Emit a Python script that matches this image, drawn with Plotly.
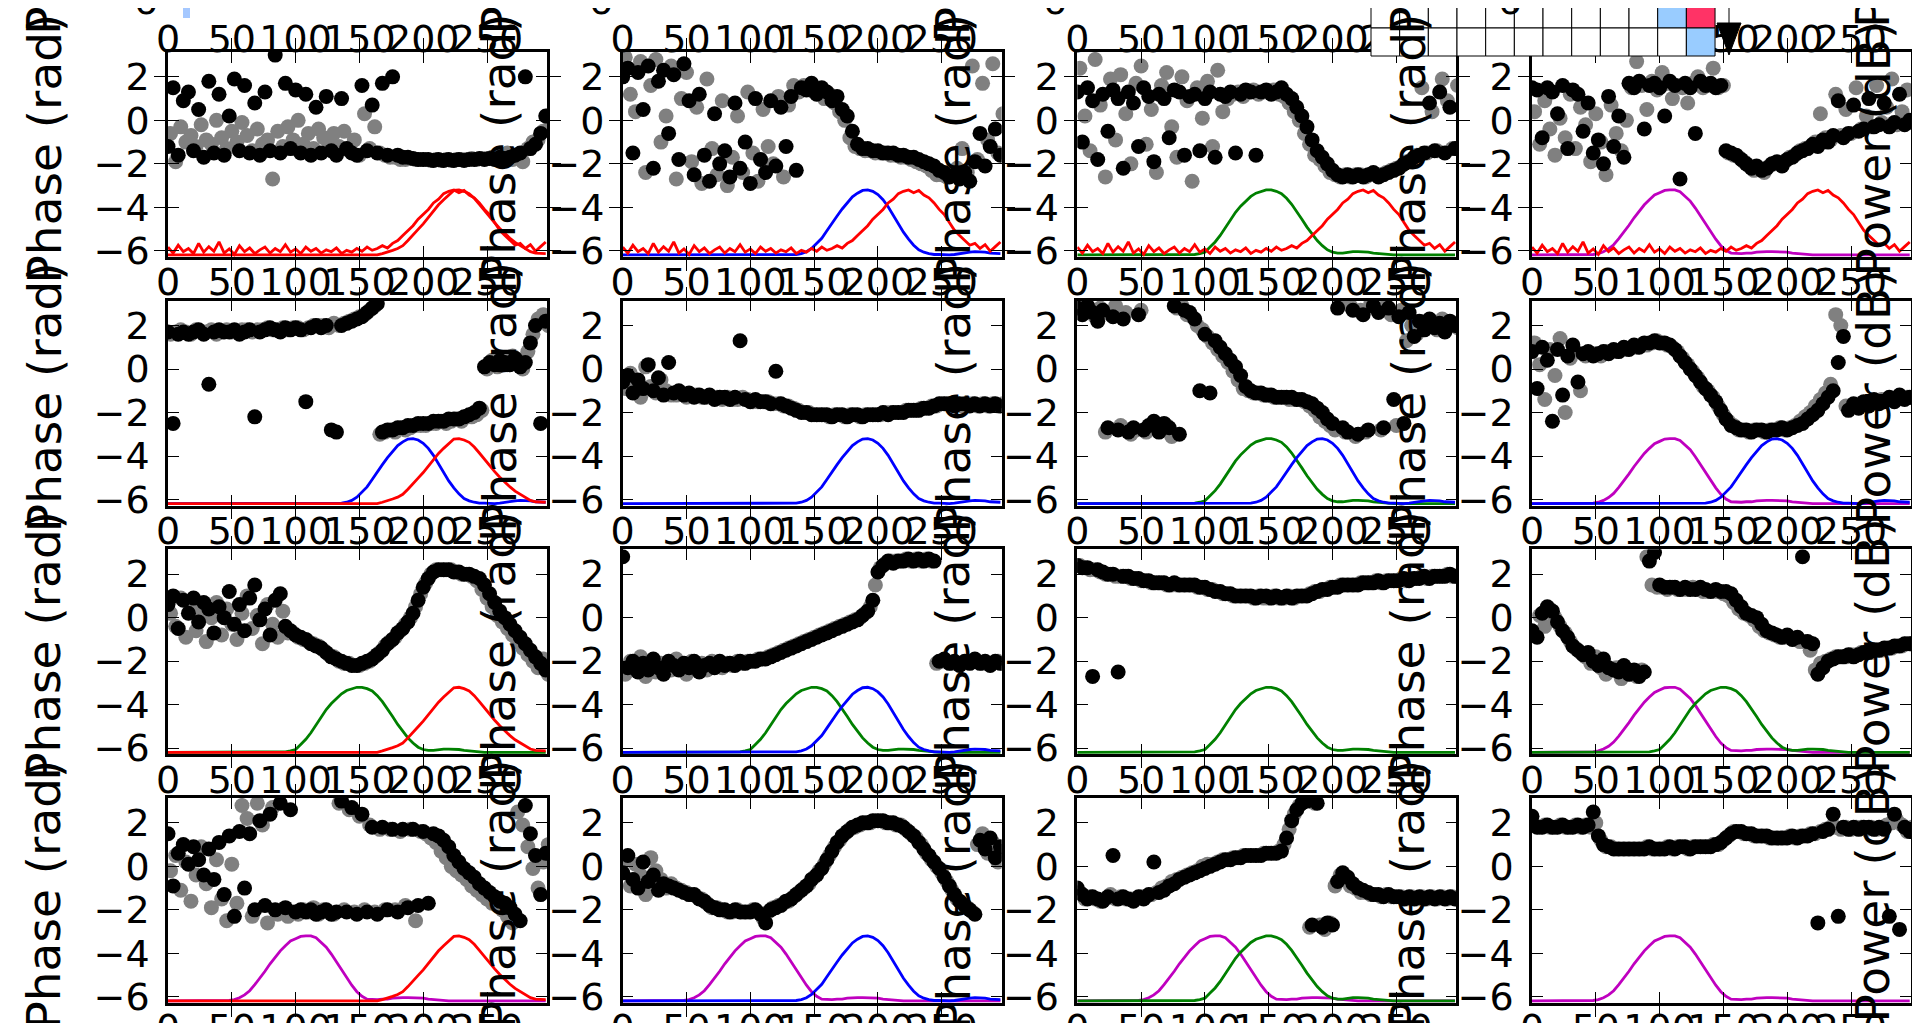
import math
import plotly.graph_objects as go

# ---------------- data ----------------
x_phase = list(range(0, 297, 4))      # frequency-bin positions of black phase points
x_gray = list(range(2, 299, 4))       # positions of the gray phase points
x_power = list(range(0, 297, 4))      # positions of power samples
x_tick_vals = [0, 50, 100, 150, 200, 250]
y_tick_vals = [2, 0, -2, -4, -6]
y_tick_text = ["2", "0", "\u22122", "\u22124", "\u22126"]

power_magenta = [-40, -40, -40, -40, -40, -40, -40, -40, -40, -40, -40, -40,
                 -39.9, -39.7, -39.3, -38.7, -37.8, -36.5, -35.1, -33.6, -32.0, -30.6,
                 -29.2, -28.1, -27.1, -26.6, -26.1, -26.0, -26.0, -26.4, -27.3, -28.4,
                 -29.9, -31.6, -33.4, -35.1, -36.6, -38.0, -39.0, -39.6, -39.7, -39.7,
                 -39.6, -39.6, -39.4, -39.3, -39.3, -39.3, -39.3, -39.3, -39.4, -39.6,
                 -39.7, -39.9,
                 -40, -40, -40, -40, -40, -40, -40, -40, -40, -40, -40, -40, -40, -40, -40, -40, -40, -40, -40, -40, -40]
power_green = [-40, -40, -40, -40, -40, -40, -40, -40, -40, -40, -40, -40, -40, -40, -40, -40, -40, -40, -40, -40, -40, -40, -40,
               -39.9, -39.7, -39.4, -38.3, -37.2, -35.8, -34.1, -32.3, -30.8, -29.5,
               -28.4, -27.4, -26.7, -26.3, -26.0, -26.0, -26.3, -26.8, -27.8, -29.1,
               -30.6, -32.3, -34.0, -35.5, -36.9, -38.0, -38.9, -39.4, -39.6, -39.6,
               -39.4, -39.3, -39.3, -39.3, -39.4, -39.6, -39.7, -39.9,
               -40, -40, -40, -40, -40, -40, -40, -40, -40, -40, -40, -40, -40, -40]
power_blue = [-40, -40, -40, -40, -40, -40, -40, -40, -40, -40, -40, -40, -40, -40, -40, -40, -40,
              -40, -40, -40, -40, -40, -40, -40, -40, -40, -40, -40, -40, -40, -40, -40, -40, -40,
              -39.9, -39.7, -39.3, -38.6, -37.6, -36.4, -34.8, -33.1, -31.6, -30.1,
              -28.7, -27.5, -26.7, -26.1, -26.0, -26.3, -27.0, -28.1, -29.6, -31.5,
              -33.3, -35.1, -36.6, -37.9, -38.9, -39.4, -39.7, -39.9, -39.9, -40.0,
              -40.0, -39.9, -39.7, -39.6, -39.4, -39.3, -39.3, -39.4, -39.6, -39.7,
              -39.7]
power_red = [-40, -40, -40, -40, -40, -40, -40, -40, -40, -40, -40, -40, -40, -40, -40, -40, -40, -40, -40, -40, -40,
             -40, -40, -40, -40, -40, -40, -40, -40, -40, -40, -40, -40, -40, -40, -40, -40, -40, -40, -40, -40, -40,
             -39.7, -39.4, -39.0, -38.6, -38.0, -36.9, -35.8, -34.5, -33.3, -31.9,
             -30.5, -29.2, -28.1, -27.0, -26.1, -26.0, -26.3, -26.8, -27.8, -29.1,
             -30.5, -31.9, -33.1, -34.3, -35.4, -36.4, -37.3, -38.0, -38.7, -39.3,
             -39.6, -39.7, -39.7]
power_red_noisy = [-38.3, -39.6, -37.9, -39.3, -38.6, -39.7, -37.5, -39.4, -38.2, -39.2,
                   -37.2, -39.6, -38.7, -39.9, -38.0, -39.3, -38.5, -39.7, -38.9, -38.3,
                   -39.6, -38.6, -39.3, -37.8, -39.4, -38.7, -39.7, -38.3, -39.2, -38.6,
                   -39.6, -38.9, -39.3, -38.5, -39.7, -39.0, -39.4, -38.6, -39.2, -38.3,
                   -39.0, -38.6, -38.0, -38.5, -37.5, -36.9, -35.8, -34.7, -33.7, -32.3,
                   -31.3, -30.2, -28.8, -28.0, -26.8, -26.3, -26.0, -26.6, -26.1, -27.1,
                   -27.7, -28.8, -30.2, -31.3, -33.0, -34.7, -35.8, -36.9, -37.9, -37.5,
                   -38.6, -37.8, -39.2, -38.2, -37.2]

phase_r1c1 = [-1.2, 1.5, -1.6, 0.9, 1.3, -1.4, 0.5, -1.7, 1.8, -1.5,
              1.2, -1.6, 0.2, 1.9, -1.4, 1.6, -1.5, 0.8, -1.6, 1.3,
              -1.4, 3.0, -1.5, 1.7, -1.3, 1.4, -1.5, 1.2, -1.6, 0.6,
              -1.5, 1.1, -1.4, -1.6, 1.0, -1.3, -1.5, -1.6, 1.6, -1.4,
              0.7, -1.5, 1.7, -1.6, 2.0, -1.6, -1.7, -1.7, -1.75, -1.8,
              -1.8, -1.8, -1.85, -1.8, -1.85, -1.8, -1.85, -1.8, -1.85, -1.8,
              -1.8, -1.75, -1.8, -1.75, -1.8, -1.7, -1.75, -1.7, -1.6, -1.5,
              2.0, -1.3, -1.1, -0.6, 0.2]
gray_r1c1 = [-0.6, -1.9, -0.3, -1.0, -0.7, -1.2, -0.2, -0.9, -1.1, 0.0,
             -0.8, -1.3, -0.5, -1.0, -0.1, -0.7, -1.4, -0.4, -1.1, -0.9,
             -2.7, -0.5, -1.2, -0.3, -0.9, 0.0, -1.1, -0.6, -1.3, -0.4,
             -0.8, -1.0, -0.6, -1.2, -0.5, -1.4, -0.9, -1.6, 0.3, -1.3,
             -0.3, -1.5, -1.6, -1.7, -1.7, -1.8, -1.8, -1.75, -1.8, -1.8,
             -1.8, -1.85, -1.8, -1.85, -1.8, -1.85, -1.8, -1.8, -1.8, -1.75,
             -1.8, -1.75, -1.75, -1.7, -1.7, -1.6, -1.5, -1.8, -1.6, -1.9,
             -1.3, -1.0, -0.9, -0.5, -0.4]
phase_r1c2 = [2.0, 2.4, -1.5, 2.2, 0.5, 2.5, -2.2, 1.8, 2.3, -0.6,
              2.1, -1.8, 2.6, 0.9, -2.5, 1.2, -1.6, -2.8, 0.3, -2.0,
              -1.4, -2.6, 0.8, -2.2, -1.0, -2.9, 1.0, -1.8, -2.4, 0.9,
              -2.1, 0.6, -1.2, 1.1, -2.3, 1.5, 1.4, 1.7, 1.2, 1.5,
              1.3, 0.9, 1.1, 0.5, 0.2, -0.5, -1.1, -1.3, -1.3, -1.4,
              -1.4, -1.5, -1.5, -1.5, -1.6, -1.6, -1.7, -1.7, -1.8, -1.9,
              -2.0, -2.1, -2.3, -2.4, -2.6, -2.5, -2.7, -2.4, -2.8, -1.9,
              -0.6, -2.1, -1.2, -0.4, -1.6]
gray_r1c2 = [2.9, 1.2, 0.4, 2.7, -2.4, 1.6, 2.8, -1.0, 0.2, 2.5,
             -2.7, 1.0, 2.2, -1.9, 0.6, -2.9, 1.9, -1.3, -2.5, 0.9,
             -3.0, -1.7, 0.2, -2.4, 1.3, -1.5, -2.8, 0.5, -1.2, -2.0,
             1.1, -2.6, 0.7, 1.6, 1.3, 1.6, 1.5, 1.3, 1.4, 1.0,
             1.2, 0.8, 0.4, 0.0, -0.8, -1.2, -1.3, -1.4, -1.4, -1.5,
             -1.5, -1.5, -1.6, -1.6, -1.7, -1.7, -1.8, -1.9, -2.0, -2.1,
             -2.3, -2.5, -2.5, -2.6, -2.5, -2.2, -1.3, -2.4, 2.5, -1.8,
             1.7, -0.9, 2.6, -1.5, 0.3]
phase_r1c3 = [1.3, -1.0, 1.5, 0.9, -1.8, 1.2, -0.5, 1.4, 1.0, -2.2,
              1.3, 0.8, -1.2, 1.5, 1.1, -1.9, 1.2, 1.0, -0.8, 1.4,
              1.3, -1.6, 1.1, 1.2, -1.4, 1.0, 1.3, -1.7, 1.2, 1.1,
              1.3, -1.5, 1.2, 1.4, 1.3, -1.6, 1.3, 1.4, 1.2, 1.3,
              1.5, 1.2, 1.0, 0.6, 0.2, -0.3, -0.9, -1.4, -1.7, -2.0,
              -2.3, -2.5, -2.6, -2.5, -2.6, -2.5, -2.6, -2.5, -2.4, -2.6,
              -2.5, -2.4, -2.3, -2.2, -2.0, -1.9, -1.7, -1.6, -1.5, 0.8,
              -1.4, 1.3, -1.5, 0.6, -1.3]
gray_r1c3 = [2.4, 0.2, -1.4, 2.8, 0.7, -2.6, 1.9, -0.9, 2.1, 0.3,
             -2.0, 1.7, 2.5, -1.1, 0.5, -2.4, 1.6, 2.2, -0.3, -1.7,
             2.0, 0.9, -2.8, 1.5, 0.1, 1.8, -1.2, 2.3, 0.4, 1.0,
             1.2, 1.3, 1.1, 1.3, 1.4, 1.2, 1.3, 1.3, 1.4, 1.2,
             1.1, 0.8, 0.4, 0.0, -0.6, -1.1, -1.6, -1.8, -2.1, -2.4,
             -2.5, -2.6, -2.5, -2.6, -2.5, -2.5, -2.6, -2.5, -2.5, -2.5,
             -2.4, -2.3, -2.2, -2.1, -1.9, -1.8, -1.6, 1.5, -1.5, 0.4,
             -1.4, 1.9, 0.9, -1.3, 1.6]
phase_r1c4 = [1.5, 1.4, -0.8, 1.5, 1.3, 0.3, 1.6, -1.3, 1.4, 1.2,
              -0.5, 0.8, -1.5, -0.9, -2.0, 1.1, -1.2, 0.2, -1.7, 1.7,
              1.5, 1.8, -0.4, 1.6, 1.7, 1.5, 0.2, 1.8, 1.6, -2.7,
              1.7, 1.5, -0.6, 1.8, 1.6, 1.7, 1.5, 1.6, -1.4, -1.5,
              -1.6, -1.8, -2.0, -2.2, -2.1, -2.3, -2.2, -2.0, -1.9, -2.1,
              -1.8, -1.7, -1.5, -1.4, -1.3, -1.1, -1.2, -0.9, -1.0, -0.7,
              0.9, -0.8, -0.6, 0.7, -0.5, -0.4, 1.0, -0.3, -0.2, 0.8,
              -0.3, -0.1, 1.2, -0.2, 0.0]
gray_r1c4 = [0.4, -1.1, 0.9, -0.4, -1.6, 0.1, -0.8, 1.2, -1.3, 0.6,
             -0.2, -1.9, 0.3, -1.0, -2.5, 0.7, -0.6, -1.4, 0.0, 1.5,
             2.7, 1.6, 0.5, 1.8, 1.4, 2.2, 1.7, 1.0, 1.6, 1.5,
             0.8, 1.7, 2.0, 1.5, 1.6, 2.4, 1.5, 1.6, -1.5, -1.6,
             -1.7, -1.9, -2.1, -2.3, -2.2, -2.4, -2.1, -2.0, -2.0, -1.9,
             -1.7, -1.6, -1.4, -1.3, -1.2, -1.0, 0.3, -0.8, -0.9, 1.2,
             -0.7, 0.5, -0.6, 1.5, -0.4, 0.2, -0.3, 1.6, -0.1, 0.6,
             1.9, -0.2, 0.4, 1.4, -0.1]

phase_r2c1 = [1.7, -2.5, 1.6, 1.7, 1.6, 1.7, 1.8, 1.6, -0.7, 1.7,
              1.8, 1.7, 1.7, 1.8, 1.6, 1.7, 1.8, -2.2, 1.7, 1.8,
              1.9, 1.8, 1.7, 1.9, 1.8, 1.9, 1.8, -1.5, 1.9, 2.0,
              1.9, 2.0, -2.8, -2.9, 2.0, 2.1, 2.2, 2.3, 2.4, 2.6,
              2.8, 3.0, -2.9, -2.8, -2.8, -2.7, -2.7, -2.6, -2.6, -2.5,
              -2.5, -2.5, -2.4, -2.4, -2.4, -2.3, -2.3, -2.3, -2.2, -2.1,
              -2.0, -1.8, 0.1, 0.3, 0.2, 0.4, 0.3, 0.2, 0.5, 0.1,
              0.3, 1.2, 2.0, -2.5, 2.2]
gray_r2c1 = [1.6, 1.7, 1.8, 1.7, 1.6, 1.8, 1.7, 1.7, 1.8, 1.6,
             1.7, 1.8, 1.7, 1.7, 1.8, 1.8, 1.7, 1.8, 1.8, 1.9,
             1.8, 1.8, 1.9, 1.8, 1.9, 1.9, 1.8, 1.9, 2.0, 2.0,
             2.0, 1.9, 2.1, 2.0, 2.1, 2.2, 2.3, 2.4, 2.5, 2.7,
             2.9, -3.0, -2.9, -2.8, -2.9, -2.7, -2.8, -2.7, -2.6, -2.6,
             -2.6, -2.5, -2.5, -2.4, -2.5, -2.4, -2.3, -2.4, -2.2, -2.2,
             -2.1, -1.9, 0.0, 0.4, 0.1, 0.5, 0.2, 0.6, 0.3, 0.0,
             0.8, 1.6, 2.3, 2.5, 2.0]
phase_r2c2 = [-0.6, -0.3, -1.1, -0.5, -0.9, 0.2, -1.0, -0.4, -1.2, 0.3,
              -1.1, -1.0, -1.2, -1.1, -1.3, -1.2, -1.3, -1.2, -1.4, -1.3,
              -1.3, -1.4, -1.3, 1.3, -1.4, -1.5, -1.4, -1.5, -1.5, -1.6,
              -0.1, -1.6, -1.7, -1.8, -1.9, -2.0, -2.0, -2.1, -2.1, -2.1,
              -2.1, -2.2, -2.1, -2.1, -2.2, -2.1, -2.1, -2.2, -2.1, -2.1,
              -2.1, -2.0, -2.1, -2.0, -2.0, -2.0, -1.9, -1.9, -1.9, -1.8,
              -1.8, -1.7, -1.6, -1.6, -1.6, -1.7, -1.6, -1.6, -1.7, -1.6,
              -1.7, -1.6, -1.7, -1.6, -1.7]
gray_r2c2 = [-0.9, -0.2, -0.7, -1.3, 0.1, -0.8, -1.1, -0.5, -1.0, -1.2,
             -1.2, -1.1, -1.3, -1.2, -1.2, -1.3, -1.3, -1.3, -1.3, -1.4,
             -1.3, -1.4, -1.4, -1.3, -1.4, -1.5, -1.5, -1.5, -1.5, -1.6,
             -1.6, -1.7, -1.7, -1.8, -1.9, -2.0, -2.0, -2.1, -2.1, -2.1,
             -2.2, -2.1, -2.1, -2.2, -2.1, -2.1, -2.2, -2.1, -2.1, -2.1,
             -2.1, -2.0, -2.0, -2.0, -2.0, -1.9, -1.9, -1.9, -1.8, -1.8,
             -1.7, -1.7, -1.6, -1.6, -1.6, -1.6, -1.7, -1.6, -1.6, -1.7,
             -1.6, -1.7, -1.6, -1.7, -1.6]
phase_r2c3 = [2.8, 2.5, 2.9, 2.6, 2.2, 2.7, -2.7, 2.4, -2.8, 2.3,
              -2.9, -2.7, 2.5, -2.8, -2.6, -2.4, -2.9, -2.5, -2.7, 2.9,
              -3.0, 2.7, 2.6, 2.3, -1.0, 1.6, -1.1, 1.3, 1.0, 0.7,
              0.4, 0.1, -0.3, -0.8, -1.0, -1.1, -1.1, -1.2, -1.2, -1.3,
              -1.3, -1.3, -1.3, -1.4, -1.4, -1.5, -1.6, -1.8, -2.0, -2.3,
              -2.5, 2.8, -2.7, -2.9, 2.7, -3.0, 2.5, -2.8, 2.9, 2.6,
              -2.7, 2.8, -1.4, 2.4, -2.5, 2.6, 1.5, 2.2, 1.8, 2.3,
              1.9, 2.1, 1.7, 2.2, 2.0]
gray_r2c3 = [2.9, 2.6, 2.7, 2.4, 2.8, -2.9, 2.5, 2.9, -2.6, 2.6,
             -3.0, -2.8, 2.7, -2.9, -2.7, -2.8, -2.8, -2.6, -3.1, 2.8,
             2.9, 2.5, 2.4, 2.0, 1.8, 1.5, 1.2, 0.9, 0.6, 0.3,
             -0.1, -0.5, -0.9, -1.0, -1.1, -1.1, -1.2, -1.2, -1.3, -1.3,
             -1.3, -1.4, -1.4, -1.4, -1.5, -1.7, -1.9, -2.2, -2.4, -2.6,
             -2.8, 3.0, -2.9, 2.9, -3.1, 2.7, -2.9, 3.0, 2.8, -2.8,
             2.9, 2.5, -2.6, 2.7, 1.3, 2.0, 1.6, 2.1, 1.9, 2.2,
             1.8, 2.3, 1.9, 2.1, 1.9]
phase_r2c4 = [0.8, -0.9, 1.0, 0.4, -2.4, 0.9, -1.2, 0.6, 1.1, -0.6,
              0.7, 0.8, 0.6, 0.7, 0.8, 0.7, 0.9, 0.8, 1.0, 0.9,
              1.1, 1.0, 1.2, 1.2, 1.3, 1.2, 1.2, 1.1, 0.9, 0.6,
              0.3, 0.0, -0.3, -0.6, -0.9, -1.2, -1.5, -1.9, -2.3, -2.6,
              -2.7, -2.8, -2.8, -2.9, -2.8, -2.8, -2.9, -2.8, -2.8, -2.7,
              -2.8, -2.7, -2.6, -2.5, -2.3, -2.1, -1.9, -1.6, -1.3, -1.0,
              0.3, 1.5, -1.9, -1.6, -1.8, -1.5, -1.7, -1.4, -1.6, -1.5,
              -1.3, -1.5, -1.2, -1.4, -1.3]
gray_r2c4 = [1.2, 0.2, -1.4, 0.9, -0.3, 1.4, -2.0, 0.5, 0.8, -1.0,
             0.6, 0.7, 0.7, 0.6, 0.8, 0.8, 0.8, 0.9, 0.9, 1.0,
             1.0, 1.1, 1.1, 1.2, 1.3, 1.2, 1.1, 1.0, 0.8, 0.5,
             0.2, -0.1, -0.4, -0.8, -1.0, -1.3, -1.7, -2.1, -2.4, -2.6,
             -2.8, -2.8, -2.9, -2.8, -2.8, -2.9, -2.8, -2.8, -2.7, -2.8,
             -2.7, -2.6, -2.4, -2.2, -2.0, -1.7, -1.4, -1.1, -0.7, 2.5,
             2.0, -1.7, -1.7, -1.7, -1.6, -1.6, -1.5, -1.5, -1.4, -1.4,
             -1.4, -1.3, -1.3, -1.3, -1.3]

phase_r3c1 = [0.6, 1.0, -0.5, 0.8, 0.2, 0.9, -0.2, 0.7, 0.4, -0.7,
              0.5, 0.0, 1.2, -0.3, 0.6, -0.6, 0.9, 1.5, -0.1, 0.4,
              -0.8, 0.8, 1.1, -0.4, -0.6, -0.8, -0.9, -1.0, -1.2, -1.3,
              -1.4, -1.6, -1.8, -1.9, -2.0, -2.1, -2.2, -2.2, -2.1, -2.0,
              -1.9, -1.7, -1.5, -1.2, -1.0, -0.7, -0.5, -0.2, 0.2, 0.8,
              1.4, 1.8, 2.1, 2.2, 2.2, 2.2, 2.1, 2.1, 2.0, 2.0,
              1.9, 1.8, 1.5, 1.1, 0.7, 0.3, 0.0, -0.3, -0.6, -0.9,
              -1.2, -1.5, -1.8, -2.1, -2.4]
gray_r3c1 = [0.2, -0.4, 0.9, -0.9, 0.5, -0.6, 0.3, -1.1, 0.0, 0.7,
             -0.8, 0.4, -0.3, -1.0, 0.2, 1.0, -0.5, 0.1, -1.2, 0.6,
             -0.3, -0.9, 0.3, -0.7, -0.7, -0.9, -1.0, -1.1, -1.2, -1.3,
             -1.5, -1.7, -1.8, -2.0, -2.1, -2.1, -2.2, -2.2, -2.1, -2.0,
             -1.8, -1.6, -1.3, -1.1, -0.9, -0.6, -0.3, 0.0, 0.5, 1.1,
             1.6, 2.0, 2.2, 2.2, 2.2, 2.2, 2.1, 2.0, 2.0, 1.9,
             1.7, 1.3, 0.9, 0.5, 0.1, -0.2, -0.5, -0.8, -1.1, -1.4,
             -1.7, -2.0, -2.3, -1.9, -2.6]
phase_r3c2 = [2.8, -2.3, -2.0, -2.5, -2.1, -2.4, -1.9, -2.3, -2.6, -2.0,
              -2.2, -2.4, -2.1, -2.3, -2.0, -2.5, -2.2, -2.1, -2.3, -2.0,
              -2.2, -2.1, -2.2, -2.0, -2.1, -2.0, -2.0, -1.9, -1.9, -1.8,
              -1.7, -1.6, -1.5, -1.4, -1.3, -1.2, -1.1, -1.0, -0.9, -0.8,
              -0.7, -0.6, -0.5, -0.4, -0.3, -0.2, -0.1, 0.1, 0.3, 0.8,
              2.1, 2.4, 2.6, 2.5, 2.6, 2.6, 2.7, 2.6, 2.7, 2.6,
              2.7, 2.6, -2.0, -1.9, -2.1, -2.0, -2.2, -2.0, -2.1, -1.9,
              -2.1, -2.0, -2.2, -2.0, -2.1]
gray_r3c2 = [-2.6, -2.0, -2.4, -1.8, -2.7, -2.2, -2.5, -2.1, -2.3, -2.4,
             -1.9, -2.2, -2.6, -2.0, -2.3, -2.1, -2.4, -2.0, -2.2, -2.3,
             -2.1, -2.2, -2.0, -2.1, -2.0, -2.0, -1.9, -1.9, -1.8, -1.7,
             -1.6, -1.5, -1.4, -1.3, -1.2, -1.1, -1.0, -0.9, -0.8, -0.7,
             -0.6, -0.5, -0.4, -0.3, -0.2, -0.1, 0.0, 0.2, 0.5, 1.5,
             2.3, 2.5, 2.6, 2.6, 2.6, 2.7, 2.6, 2.7, 2.6, 2.7,
             2.6, -2.1, -2.0, -2.0, -2.1, -2.1, -2.1, -2.0, -2.0, -2.0,
             -2.1, -2.1, -2.1, -2.0, -2.1]
phase_r3c3 = [2.4, 2.3, 2.3, -2.7, 2.2, 2.1, 2.0, 2.0, -2.5, 1.9,
              1.9, 1.8, 1.8, 1.7, 1.7, 1.6, 1.6, 1.6, 1.5, 1.6,
              1.5, 1.5, 1.5, 1.5, 1.4, 1.4, 1.3, 1.2, 1.2, 1.1,
              1.1, 1.0, 1.0, 1.0, 1.0, 0.9, 1.0, 1.0, 0.9, 1.0,
              0.9, 1.0, 0.9, 1.0, 1.0, 1.0, 1.1, 1.2, 1.3, 1.3,
              1.4, 1.4, 1.5, 1.5, 1.5, 1.5, 1.6, 1.6, 1.6, 1.7,
              1.6, 1.7, 1.7, 1.7, 1.8, 1.7, 1.8, 1.8, 1.9, 1.8,
              1.9, 1.9, 1.9, 2.0, 1.9]
gray_r3c3 = [2.4, 2.3, 2.2, 2.2, 2.1, 2.0, 2.0, 1.9, 1.9, 1.9,
             1.8, 1.8, 1.7, 1.7, 1.6, 1.6, 1.6, 1.5, 1.5, 1.5,
             1.5, 1.5, 1.5, 1.4, 1.4, 1.3, 1.3, 1.2, 1.1, 1.1,
             1.0, 1.0, 1.0, 1.0, 0.9, 1.0, 0.9, 0.9, 1.0, 0.9,
             0.9, 1.0, 0.9, 1.0, 1.0, 1.1, 1.2, 1.2, 1.3, 1.4,
             1.4, 1.5, 1.5, 1.5, 1.5, 1.6, 1.6, 1.6, 1.7, 1.6,
             1.7, 1.7, 1.7, 1.8, 1.7, 1.8, 1.8, 1.9, 1.8, 1.9,
             1.9, 1.9, 2.0, 1.9, 1.9]
phase_r3c4 = [-0.6, -0.9, 0.2, 0.5, 0.3, -0.2, -0.6, -0.9, -1.3, -1.5,
              -1.7, -1.6, -2.0, -2.2, -1.9, -2.3, -2.4, -2.5, -2.2, -2.6,
              -2.4, -2.7, -2.5, 2.6, 3.0, 1.5, 1.4, 1.4, 1.4, 1.3,
              1.4, 1.3, 1.3, 1.4, 1.3, 1.2, 1.3, 1.2, 1.2, 1.1,
              0.8, 0.5, 0.2, 0.1, 0.0, -0.3, -0.6, -0.7, -0.8, -0.9,
              -0.8, -1.0, -0.9, 2.8, -1.1, -1.2, -2.6, -2.3, -2.0, -1.9,
              -1.8, -1.8, -1.7, -1.8, -1.7, -1.6, -1.6, -1.5, -1.5, -1.4,
              -1.4, -1.3, -1.3, -1.2, -1.2]
gray_r3c4 = [-0.8, 0.1, -0.4, 0.4, 0.0, -0.4, -0.7, -1.1, -1.4, -1.6,
             -1.8, -2.1, -1.8, -2.3, -2.6, -2.4, -2.3, -2.8, -2.5, -2.6,
             -2.7, -2.4, 2.8, 1.5, 1.4, 1.4, 1.3, 1.4, 1.3, 1.3,
             1.3, 1.4, 1.3, 1.2, 1.2, 1.2, 1.2, 1.1, 1.0, 0.7,
             0.4, 0.2, 0.1, -0.1, -0.4, -0.6, -0.7, -0.8, -0.9, -0.9,
             -0.9, -1.0, -1.1, -1.1, -1.5, -2.4, -2.1, -2.0, -1.9, -1.8,
             -1.8, -1.8, -1.7, -1.7, -1.6, -1.6, -1.6, -1.5, -1.5, -1.4,
             -1.4, -1.3, -1.3, -1.2, -1.2]

phase_r4c1 = [1.5, -0.9, 0.6, 1.0, 0.1, 0.9, 0.3, -0.4, 0.8, -0.6,
              1.1, -1.3, 1.4, -2.3, 1.6, -1.0, 1.5, -2.0, 2.1, -1.8,
              2.4, -2.0, 2.9, -1.9, 2.6, -2.1, -2.0, -2.1, -2.0, -2.2,
              -2.1, -2.0, -2.2, -2.1, 3.0, -2.1, 2.7, -2.2, 2.4, -2.1,
              1.8, -2.2, 1.8, -2.0, 1.7, -2.1, 1.7, -1.9, 1.7, -1.8,
              1.6, -1.7, 1.5, 1.4, 1.2, 0.9, 0.5, 0.2, -0.1, -0.3,
              -0.5, -0.8, -1.0, -1.2, -1.4, -1.6, -1.7, -1.9, -2.2, -2.5,
              2.8, 1.5, 0.5, -1.3, 0.6]
gray_r4c1 = [-0.2, 0.5, -1.1, 0.2, -1.6, -0.4, 0.9, -0.8, -1.9, 0.3,
             -1.5, -2.5, 0.1, -1.7, 2.8, 2.2, -2.3, 2.9, 1.9, -2.6,
             2.7, -2.2, -2.0, -2.3, -2.1, -2.2, -2.0, -2.1, -1.9, -2.2,
             -2.0, -2.1, -2.2, 2.9, -2.0, 2.6, -2.1, 2.3, -2.0, 1.9,
             -2.1, 1.7, -2.0, 1.7, -2.0, 1.6, -1.8, 1.7, -2.5, 1.6,
             1.5, 1.3, 1.1, 0.7, 0.4, 0.0, -0.2, -0.4, -0.6, -0.9,
             -1.1, -1.3, -1.5, -1.7, -1.8, -2.0, -2.3, -2.6, 2.5, 1.9,
             0.9, -0.1, -1.0, 0.2, 1.0]
phase_r4c2 = [-0.3, 0.5, -0.6, -1.0, 0.2, -0.7, -0.4, -1.1, -0.8, -0.9,
              -1.0, -1.1, -1.2, -1.3, -1.3, -1.5, -1.6, -1.8, -1.9, -2.0,
              -2.0, -2.1, -2.0, -2.1, -2.1, -2.1, -2.0, -2.2, -2.6, -2.0,
              -1.9, -1.8, -1.6, -1.5, -1.3, -1.1, -0.9, -0.6, -0.4, -0.1,
              0.3, 0.7, 1.1, 1.4, 1.6, 1.8, 1.9, 2.0, 2.0, 2.1,
              2.1, 2.1, 2.0, 2.0, 1.9, 1.8, 1.6, 1.4, 1.1, 0.8,
              0.5, 0.2, -0.1, -0.5, -0.9, -1.3, -1.6, -1.8, -2.0, -2.2,
              1.2, 0.8, 1.3, 0.4, 0.9]
gray_r4c2 = [0.3, -0.9, 0.1, -0.4, -1.3, 0.4, -0.2, -0.6, -1.0, -0.8,
             -1.0, -1.1, -1.2, -1.3, -1.4, -1.5, -1.7, -1.9, -1.9, -2.0,
             -2.1, -2.1, -2.0, -2.1, -2.1, -2.0, -2.1, -2.4, -2.1, -1.9,
             -1.8, -1.7, -1.6, -1.4, -1.2, -1.0, -0.8, -0.5, -0.2, 0.1,
             0.5, 0.9, 1.2, 1.5, 1.7, 1.8, 1.9, 2.0, 2.0, 2.1,
             2.1, 2.0, 2.0, 1.9, 1.9, 1.7, 1.5, 1.3, 1.0, 0.6,
             0.3, 0.0, -0.3, -0.7, -1.1, -1.5, -1.7, -1.9, -2.1, 1.0,
             1.5, 0.6, 1.1, 0.2, 0.7]
phase_r4c3 = [-1.0, -1.3, -1.5, -1.4, -1.5, -1.6, -1.4, 0.5, -1.5, -1.4,
              -1.5, -1.6, -1.4, -1.5, -1.3, 0.2, -1.2, -1.1, -0.9, -0.8,
              -0.6, -0.5, -0.4, -0.3, -0.2, -0.1, 0.0, 0.1, 0.2, 0.3,
              0.3, 0.4, 0.4, 0.5, 0.5, 0.5, 0.5, 0.6, 0.6, 0.6,
              0.7, 1.3, 2.1, 2.6, 2.9, 3.0, -2.7, 2.9, -2.8, -2.6,
              -2.7, -0.7, -0.3, -0.5, -0.8, -1.0, -1.1, -1.2, -1.3, -1.3,
              -1.4, -1.3, -1.4, -1.4, -1.5, -1.4, -1.5, -1.4, -1.5, -1.4,
              -1.5, -1.4, -1.5, -1.4, -1.5]
gray_r4c3 = [-1.2, -1.5, -1.4, -1.5, -1.6, -1.5, -1.3, -1.5, -1.4, -1.5,
             -1.5, -1.5, -1.4, -1.4, -1.3, -1.2, -1.0, -0.9, -0.7, -0.6,
             -0.5, -0.4, -0.3, -0.2, 0.0, 0.1, 0.1, 0.2, 0.3, 0.3,
             0.4, 0.4, 0.5, 0.5, 0.5, 0.5, 0.6, 0.6, 0.6, 0.7,
             1.0, 1.7, 2.4, 2.8, 3.0, -2.8, 2.9, -2.7, -2.9, -2.6,
             -0.9, -0.4, -0.6, -0.9, -1.0, -1.2, -1.2, -1.3, -1.3, -1.4,
             -1.3, -1.4, -1.4, -1.4, -1.5, -1.4, -1.5, -1.4, -1.5, -1.4,
             -1.5, -1.4, -1.5, -1.4, -1.5]
phase_r4c4 = [2.3, 1.8, 1.8, 1.9, 1.8, 1.8, 1.9, 1.8, 1.8, 1.9,
              1.8, 1.9, 2.5, 1.4, 1.0, 0.9, 0.8, 0.8, 0.8, 0.8,
              0.8, 0.8, 0.8, 0.9, 0.8, 0.8, 0.8, 0.9, 0.8, 0.9,
              0.9, 0.8, 0.9, 0.9, 0.9, 0.9, 1.0, 1.1, 1.3, 1.5,
              1.6, 1.6, 1.5, 1.5, 1.4, 1.4, 1.4, 1.3, 1.3, 1.3,
              1.3, 1.4, 1.3, 1.4, 1.4, 1.5, -2.6, 1.6, 1.7, 2.4,
              -2.3, 1.8, 1.7, 1.8, 1.7, 1.8, 1.8, 1.7, 1.8, 1.7,
              -2.3, 2.4, -2.9, 1.8, 1.6]
gray_r4c4 = [1.9, 1.8, 1.9, 1.8, 1.8, 1.9, 1.8, 1.8, 1.9, 1.8,
             1.9, 1.8, 2.0, 1.2, 0.9, 0.9, 0.8, 0.8, 0.8, 0.8,
             0.8, 0.8, 0.9, 0.8, 0.8, 0.8, 0.9, 0.8, 0.9, 0.9,
             0.8, 0.9, 0.9, 0.9, 0.9, 1.0, 1.0, 1.2, 1.4, 1.6,
             1.6, 1.5, 1.5, 1.4, 1.4, 1.4, 1.3, 1.3, 1.3, 1.3,
             1.4, 1.3, 1.4, 1.4, 1.5, 1.5, 1.6, 1.7, 1.8, 1.8,
             1.7, 1.8, 1.7, 1.8, 1.8, 1.7, 1.8, 1.7, 1.8, 1.9,
             2.0, 2.1, 1.9, 1.6, 1.8]

power_series = {
    "magenta": (power_magenta, "#bf00bf"),
    "green": (power_green, "#008000"),
    "blue": (power_blue, "#0000ff"),
    "red": (power_red, "#ff0000"),
    "red_noisy": (power_red_noisy, "#ff0000"),
}

panels = [
    (phase_r1c1, gray_r1c1, ["red", "red_noisy"]),
    (phase_r1c2, gray_r1c2, ["blue", "red_noisy"]),
    (phase_r1c3, gray_r1c3, ["green", "red_noisy"]),
    (phase_r1c4, gray_r1c4, ["magenta", "red_noisy"]),
    (phase_r2c1, gray_r2c1, ["blue", "red"]),
    (phase_r2c2, gray_r2c2, ["blue"]),
    (phase_r2c3, gray_r2c3, ["green", "blue"]),
    (phase_r2c4, gray_r2c4, ["magenta", "blue"]),
    (phase_r3c1, gray_r3c1, ["green", "red"]),
    (phase_r3c2, gray_r3c2, ["green", "blue"]),
    (phase_r3c3, gray_r3c3, ["green"]),
    (phase_r3c4, gray_r3c4, ["magenta", "green"]),
    (phase_r4c1, gray_r4c1, ["magenta", "red"]),
    (phase_r4c2, gray_r4c2, ["magenta", "blue"]),
    (phase_r4c3, gray_r4c3, ["magenta", "green"]),
    (phase_r4c4, gray_r4c4, ["magenta"]),
]

# ---------------- layout geometry (pixels) ----------------
W, H = 1920, 1023
COL_LEFT = [160, 614.7, 1069.3, 1524]
COL_W = 379
ROW_TOP0, ROW_PITCH, ROW_H = 44, 248.67, 205
FONT = "DejaVu Sans"
TICK_SIZE = 38
LABEL_SIZE = 47
MARKER_SIZE = 15
PHASE_RANGE = [-2 * math.pi, math.pi]
POWER_RANGE = [-40.44, 3.7]


def fx(px):
    return px / W


def fy(py):
    return 1 - py / H


def ax_name(prefix, i):
    return prefix if i == 1 else f"{prefix}{i}"


fig = go.Figure()
layout = dict(
    width=W, height=H, margin=dict(l=0, r=0, t=0, b=0, pad=0),
    paper_bgcolor="white", plot_bgcolor="white", showlegend=False,
    font=dict(family=FONT, color="black", size=TICK_SIZE),
)
annotations = []
shapes = []

common_axis = dict(
    showgrid=False, zeroline=False, showline=True, linecolor="black", linewidth=2.5,
    ticks="inside", ticklen=11, tickwidth=1, tickcolor="black", mirror="allticks",
    tickfont=dict(family=FONT, size=TICK_SIZE, color="black"), automargin=False,
    fixedrange=True,
)

for k, (black, gray, curves) in enumerate(panels):
    r, c = divmod(k, 4)
    xid, ya, yb = k + 1, 2 * k + 1, 2 * k + 2
    left = COL_LEFT[c]
    top = ROW_TOP0 + r * ROW_PITCH
    xref, yaref, ybref = ax_name("x", xid), ax_name("y", ya), ax_name("y", yb)
    layout[ax_name("xaxis", xid)] = dict(
        common_axis, domain=[fx(left), fx(left + COL_W)], anchor=yaref,
        range=[0, 297], tickmode="array", tickvals=x_tick_vals, tickangle=0,
        ticklabelstandoff=-10)
    layout[ax_name("yaxis", ya)] = dict(
        common_axis, domain=[fy(top + ROW_H), fy(top)], anchor=xref,
        range=PHASE_RANGE, tickmode="array", tickvals=y_tick_vals, ticktext=y_tick_text,
        tickangle=0, ticklabelstandoff=8)
    layout[ax_name("yaxis", yb)] = dict(
        overlaying=yaref, anchor=xref, side="right", range=POWER_RANGE,
        showticklabels=False, showline=False, ticks="", showgrid=False, zeroline=False,
        automargin=False, fixedrange=True)

    fig.add_trace(go.Scatter(x=x_gray, y=gray, mode="markers", xaxis=xref, yaxis=yaref,
                             marker=dict(color="#808080", size=MARKER_SIZE, line=dict(width=0)),
                             hoverinfo="skip"))
    fig.add_trace(go.Scatter(x=x_phase, y=black, mode="markers", xaxis=xref, yaxis=yaref,
                             marker=dict(color="black", size=MARKER_SIZE, line=dict(width=0)),
                             hoverinfo="skip"))
    for name in curves:
        vals, col = power_series[name]
        fig.add_trace(go.Scatter(x=x_power, y=vals, mode="lines", xaxis=xref, yaxis=ybref,
                                 line=dict(color=col, width=2.8), hoverinfo="skip"))

# tick labels of the (cut-off) row above the first visible row
for c in range(4):
    xid = 17 + c
    xref = ax_name("x", xid)
    layout[ax_name("xaxis", xid)] = dict(
        overlaying=ax_name("x", c + 1), anchor="free", position=1.0, side="bottom",
        range=[0, 297], tickmode="array", tickvals=x_tick_vals, ticks="", tickangle=0,
        showline=False, showgrid=False, zeroline=False, automargin=False,
        tickfont=dict(family=FONT, size=TICK_SIZE, color="black"), ticklabelstandoff=5,
        fixedrange=True)
    fig.add_trace(go.Scatter(x=[None], y=[None], xaxis=xref, yaxis=ax_name("y", 2 * c + 1),
                             mode="markers", hoverinfo="skip"))

# axis titles (row -1 is the cut-off row above)
for r in range(-1, 4):
    cy = ROW_TOP0 + r * ROW_PITCH + ROW_H / 2 - 6
    for c in range(4):
        left = COL_LEFT[c]
        annotations.append(dict(text="Phase (rad)", xref="paper", yref="paper",
                                x=fx(left - 124), y=fy(cy), textangle=-90, showarrow=False,
                                xanchor="center", yanchor="middle",
                                font=dict(family=FONT, size=LABEL_SIZE, color="black")))
    annotations.append(dict(text="Power (dB)", xref="paper", yref="paper",
                            x=fx(COL_LEFT[3] + COL_W - 38), y=fy(cy), textangle=-90,
                            showarrow=False, xanchor="center", yanchor="middle",
                            font=dict(family=FONT, size=LABEL_SIZE, color="black")))
    if r == -1:
        for c in range(4):
            annotations.append(dict(text="\u22126", xref="paper", yref="paper",
                                    x=fx(COL_LEFT[c] - 8), y=fy(-7), showarrow=False,
                                    xanchor="right", yanchor="middle",
                                    font=dict(family=FONT, size=TICK_SIZE, color="black")))

# widget strip at the top right
CELL_X0, CELL_W = 1363, 28.67
colored = {(0, 10): "#99ccff", (0, 11): "#ff3366", (1, 11): "#99ccff"}
for j in range(2):
    for i in range(12):
        shapes.append(dict(type="rect", xref="paper", yref="paper", layer="above",
                           x0=fx(CELL_X0 + i * CELL_W), x1=fx(CELL_X0 + (i + 1) * CELL_W),
                           y0=fy(20 + j * 28), y1=fy(-8 + j * 28),
                           fillcolor=colored.get((j, i), "white"),
                           line=dict(color="black", width=1)))
shapes.append(dict(type="path", xref="paper", yref="paper", layer="above",
                   path=f"M {fx(1709)} {fy(15)} L {fx(1733)} {fy(15)} L {fx(1721)} {fy(47)} Z",
                   fillcolor="black", line=dict(color="black", width=1)))
shapes.append(dict(type="line", xref="paper", yref="paper", layer="above",
                   x0=fx(1721), x1=fx(1721), y0=fy(0), y1=fy(15),
                   line=dict(color="black", width=1)))
shapes.append(dict(type="rect", xref="paper", yref="paper", layer="above",
                   x0=fx(175), x1=fx(182), y0=fy(10), y1=fy(-2),
                   fillcolor="#a5c8ff", line=dict(width=0)))

layout["annotations"] = annotations
layout["shapes"] = shapes
fig.update_layout(**layout)
fig.write_html("out.html")
